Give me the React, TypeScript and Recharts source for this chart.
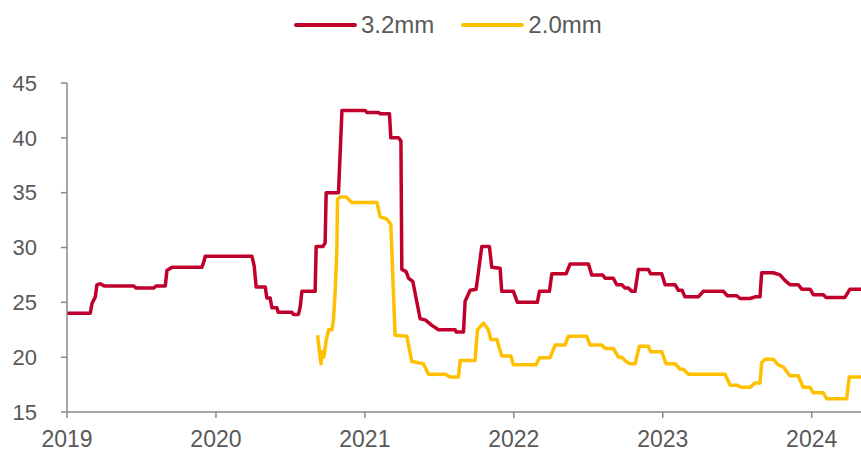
import { LineChart, Line, XAxis, YAxis } from 'recharts';

// dates as decimal years
const thick: [number, number][] = [
  [2019.0, 24.0], [2019.156, 24.0], [2019.168, 24.9], [2019.19, 25.5], [2019.201, 26.6], [2019.223, 26.7],
  [2019.25, 26.5], [2019.447, 26.5], [2019.465, 26.3], [2019.581, 26.3], [2019.6, 26.5], [2019.66, 26.5],
  [2019.671, 27.9], [2019.705, 28.2], [2019.906, 28.2], [2019.921, 28.8], [2019.928, 29.2], [2020.242, 29.2],
  [2020.257, 28.3], [2020.27, 26.4], [2020.331, 26.4], [2020.342, 25.4], [2020.364, 25.4], [2020.376, 24.5],
  [2020.409, 24.5], [2020.418, 24.1], [2020.51, 24.1], [2020.519, 23.9], [2020.554, 23.9], [2020.566, 24.6],
  [2020.577, 26.0], [2020.666, 26.0], [2020.673, 30.1], [2020.718, 30.1], [2020.733, 30.4], [2020.74, 35.0],
  [2020.823, 35.0], [2020.846, 42.5], [2021.002, 42.5], [2021.015, 42.3], [2021.091, 42.3], [2021.103, 42.2],
  [2021.165, 42.2], [2021.174, 40.0], [2021.226, 40.0], [2021.242, 39.7], [2021.248, 28.0], [2021.277, 27.8],
  [2021.293, 27.2], [2021.322, 26.9], [2021.371, 23.5], [2021.405, 23.4], [2021.45, 22.9], [2021.494, 22.5],
  [2021.606, 22.5], [2021.613, 22.3], [2021.662, 22.3], [2021.673, 25.1], [2021.707, 26.1], [2021.747, 26.2],
  [2021.785, 30.1], [2021.836, 30.1], [2021.852, 28.2], [2021.908, 28.1], [2021.919, 26.0], [2021.997, 26.0],
  [2022.024, 25.0], [2022.158, 25.0], [2022.172, 26.0], [2022.239, 26.0], [2022.255, 27.6], [2022.351, 27.6],
  [2022.378, 28.5], [2022.501, 28.5], [2022.523, 27.5], [2022.597, 27.5], [2022.613, 27.2], [2022.668, 27.2],
  [2022.691, 26.6], [2022.725, 26.6], [2022.747, 26.3], [2022.769, 26.3], [2022.792, 26.0], [2022.814, 26.0],
  [2022.836, 28.0], [2022.903, 28.0], [2022.919, 27.6], [2022.993, 27.6], [2023.016, 26.6], [2023.083, 26.6],
  [2023.105, 26.1], [2023.13, 26.1], [2023.149, 25.5], [2023.239, 25.5], [2023.272, 26.0], [2023.407, 26.0],
  [2023.434, 25.6], [2023.497, 25.6], [2023.519, 25.35], [2023.586, 25.35], [2023.62, 25.5], [2023.653, 25.5],
  [2023.664, 27.7], [2023.742, 27.7], [2023.787, 27.5], [2023.82, 27.0], [2023.854, 26.6], [2023.91, 26.6],
  [2023.933, 26.2], [2023.989, 26.2], [2024.011, 25.7], [2024.078, 25.7], [2024.096, 25.45], [2024.223, 25.45],
  [2024.257, 26.2], [2024.331, 26.2],
];

const thin: [number, number][] = [
  [2020.682, 22.0], [2020.705, 19.4], [2020.714, 20.5], [2020.724, 20.0], [2020.74, 21.5], [2020.756, 22.5],
  [2020.779, 22.5], [2020.789, 23.4], [2020.801, 26.1], [2020.812, 29.8], [2020.816, 34.4], [2020.834, 34.6],
  [2020.874, 34.6], [2020.913, 34.1], [2021.081, 34.1], [2021.103, 32.8], [2021.148, 32.6], [2021.174, 32.1],
  [2021.203, 22.0], [2021.282, 21.9], [2021.315, 19.6], [2021.393, 19.4], [2021.427, 18.45], [2021.539, 18.45],
  [2021.572, 18.2], [2021.628, 18.2], [2021.64, 19.7], [2021.74, 19.7], [2021.756, 22.5], [2021.796, 23.1],
  [2021.829, 22.5], [2021.846, 21.6], [2021.886, 21.6], [2021.919, 20.1], [2021.98, 20.1], [2021.997, 19.3],
  [2022.15, 19.3], [2022.172, 19.95], [2022.244, 19.95], [2022.277, 21.1], [2022.344, 21.1], [2022.366, 21.9],
  [2022.49, 21.9], [2022.512, 21.1], [2022.591, 21.1], [2022.613, 20.8], [2022.668, 20.8], [2022.702, 20.0],
  [2022.725, 20.0], [2022.754, 19.6], [2022.781, 19.4], [2022.814, 19.4], [2022.843, 21.0], [2022.903, 21.0],
  [2022.919, 20.5], [2022.993, 20.5], [2023.022, 19.4], [2023.083, 19.4], [2023.116, 18.9], [2023.138, 18.9],
  [2023.172, 18.45], [2023.418, 18.45], [2023.452, 17.45], [2023.497, 17.45], [2023.53, 17.25], [2023.586, 17.25],
  [2023.62, 17.65], [2023.653, 17.65], [2023.664, 19.5], [2023.686, 19.8], [2023.742, 19.8], [2023.776, 19.3],
  [2023.81, 19.1], [2023.854, 18.3], [2023.91, 18.3], [2023.943, 17.25], [2023.989, 17.25], [2024.011, 16.75],
  [2024.078, 16.75], [2024.101, 16.2], [2024.235, 16.2], [2024.252, 18.2], [2024.331, 18.2],
];

const yearTicks = [2019, 2020, 2021, 2022, 2023, 2024];
const priceTicks = [15, 20, 25, 30, 35, 40, 45];
const seriesNames = ['3.2mm', '2.0mm'];

const RED = '#C0002C';
const GOLD = '#FFC000';
const TEXT = '#595959';
const AXIS = '#898989';
const FONT = '"Liberation Sans", Arial, sans-serif';

// merge both series onto one sorted time table
const rows = (() => {
  const map = new Map<number, { t: number; a?: number; b?: number }>();
  thick.forEach(([t, v]) => map.set(t, { ...(map.get(t) || { t }), a: v }));
  thin.forEach(([t, v]) => map.set(t, { ...(map.get(t) || { t }), b: v }));
  return [...map.values()].sort((p, q) => p.t - q.t);
})();

// legend drawn as an overlay so it doesn't shrink the plot
const LegendBox = () => (
  <div style={{ position: 'absolute', left: 294, top: 10, display: 'flex', alignItems: 'center', fontFamily: FONT, fontSize: 24, color: TEXT, lineHeight: '30px' }}>
    {[RED, GOLD].map((c, i) => (
      <div key={c} style={{ display: 'flex', alignItems: 'center', marginRight: i === 0 ? 27 : 0 }}>
        <div style={{ width: 63, height: 4, borderRadius: 2, background: c, marginRight: 4 }} />
        <span>{seriesNames[i]}</span>
      </div>
    ))}
  </div>
);

const App = () => (
  <div style={{ position: 'fixed', left: 0, top: 0, width: 861, height: 451, background: '#fff' }}>
    <LineChart width={861} height={451} data={rows} margin={{ top: 83, right: 0, bottom: 0, left: 0 }}>
      <XAxis
        dataKey="t"
        type="number"
        domain={[2019, 2024.331]}
        ticks={yearTicks}
        allowDataOverflow
        height={39}
        stroke={AXIS}
        strokeWidth={1.5}
        tickSize={6}
        tickMargin={13}
        tick={{ fill: TEXT, fontSize: 23, fontFamily: FONT }}
      />
      <YAxis
        type="number"
        domain={[15, 45]}
        ticks={priceTicks}
        width={67}
        stroke={AXIS}
        strokeWidth={1.5}
        tickSize={6}
        tickMargin={24}
        tick={{ fill: TEXT, fontSize: 22, fontFamily: FONT }}
      />
      <Line dataKey="a" name={seriesNames[0]} stroke={RED} strokeWidth={3.5} dot={false} connectNulls isAnimationActive={false} strokeLinejoin="round" />
      <Line dataKey="b" name={seriesNames[1]} stroke={GOLD} strokeWidth={3.5} dot={false} connectNulls isAnimationActive={false} strokeLinejoin="round" />
    </LineChart>
    <LegendBox />
  </div>
);

export default App;
